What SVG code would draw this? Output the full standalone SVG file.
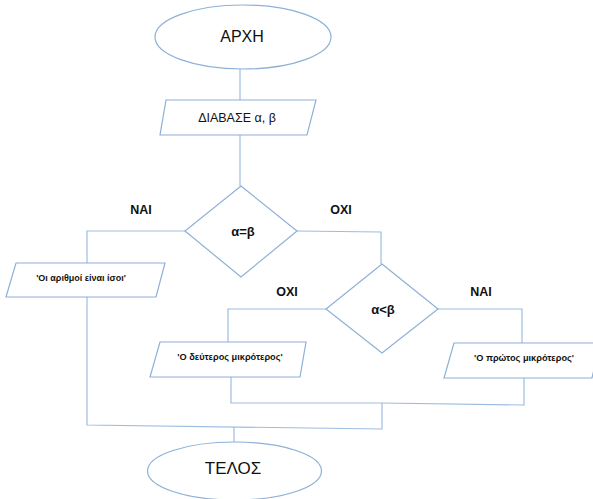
<svg xmlns="http://www.w3.org/2000/svg" width="593" height="499" viewBox="0 0 593 499">
<style>
.s{fill:#ffffff;stroke:#8eb0d8;stroke-width:1.2}
.c{fill:none;stroke:#9dbde0;stroke-width:1.2}
text{font-family:"Liberation Sans","Open Sans",sans-serif;fill:#111;text-anchor:middle;dominant-baseline:central}
.b{font-weight:bold}
</style>
<rect width="593" height="499" fill="#ffffff"/>
<g id="connectors">
<path class="c" d="M240 69V100"/>
<path class="c" d="M240 135V186"/>
<path class="c" d="M185 231H87V263"/>
<path class="c" d="M297 231L381 232V264"/>
<path class="c" d="M326 309H228V342"/>
<path class="c" d="M438 309H522V343"/>
<path class="c" d="M87 297V425L382 429V403"/>
<path class="c" d="M231 377V403L382 403L524 405V378"/>
<path class="c" d="M234 427V442"/>
</g>
<g id="start"><ellipse class="s" cx="243" cy="37" rx="88" ry="32"/><text x="242" y="36" font-size="16">ΑΡΧΗ</text></g>
<g id="read"><polygon class="s" points="166,100 316,100 307,135 160,135"/><text x="237" y="118" font-size="12.5">ΔΙΑΒΑΣΕ α, β</text></g>
<g id="cond1"><polygon class="s" points="241,186 297,231 241,277 185,231"/><text class="b" x="243" y="231" font-size="13">α=β</text></g>
<g id="equal"><polygon class="s" points="16,263 165,263 156,297 6,297"/><text x="81" y="278" font-size="9" font-weight="600">'Οι αριθμοί είναι ίσοι'</text></g>
<g id="cond2"><polygon class="s" points="382,264 438,309 382,353 326,309"/><text class="b" x="383" y="309" font-size="13">α&lt;β</text></g>
<g id="second"><polygon class="s" points="160,342 306,342 300,377 150,377"/><text class="b" x="230" y="357" font-size="9.2">'Ο δεύτερος μικρότερος'</text></g>
<g id="first"><polygon class="s" points="454,343 600,343 592,378 444,378"/><text class="b" x="524" y="358" font-size="9.2">'Ο πρώτος μικρότερος'</text></g>
<g id="end"><ellipse class="s" cx="234.5" cy="471" rx="87" ry="29"/><text x="233" y="468" font-size="17">ΤΕΛΟΣ</text></g>
<g id="labels">
<text class="b" x="141" y="210" font-size="12.5">ΝΑΙ</text>
<text class="b" x="341" y="210" font-size="12.5">ΟΧΙ</text>
<text class="b" x="287" y="292" font-size="12.5">ΟΧΙ</text>
<text class="b" x="481" y="292" font-size="12.5">ΝΑΙ</text>
</g>
</svg>
